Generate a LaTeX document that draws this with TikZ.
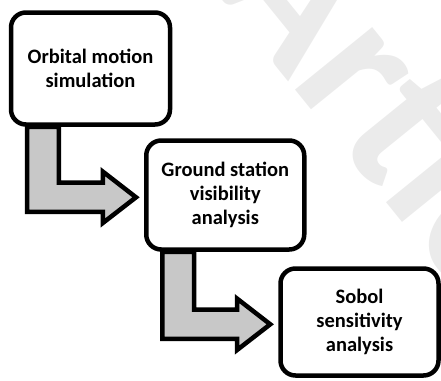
\documentclass[tikz,border=0pt]{standalone}
\usepackage{fontspec}
\setmainfont{Carlito}
\usetikzlibrary{calc}

\definecolor{arrowgray}{RGB}{200,200,200}
\definecolor{markgray}{RGB}{235,235,235}

\tikzset{
	stepbox/.style = {draw, line width=4.5pt, rounded corners=15pt, fill=white,
		align=center, inner sep=0pt, minimum width=158pt, minimum height=109pt,
		font=\bfseries\fontsize{20.5}{24}\selectfont},
	flowarrow/.style = {draw, line width=4.5pt, fill=arrowgray, line join=miter}
}

% bent block arrow from the bottom of #1 to the left side of #2
\newcommand{\flow}[2]{%
	\draw[flowarrow] let \p1 = (#1.south west), \p2 = (#2.west) in
		(\x1+18.25, \y1) -- (\x1+18.25, \y2-16.9) -- (\x2-41.25, \y2-16.9)
		-- (\x2-41.25, \y2-28.05) -- (\x2-8, \y2-2.3) -- (\x2-41.25, \y2+23.45)
		-- (\x2-41.25, \y2+12.3) -- (\x1+50, \y2+12.3) -- (\x1+50, \y1) -- cycle;}

\begin{document}
\begin{tikzpicture}[x=1pt, y=1pt]
	\useasboundingbox (0,0) rectangle (441,-380);

	% Watermark
	\begin{scope}
		\clip (0,0) rectangle (441,-380);
		\node[markgray, rotate=-51, anchor=base west, inner sep=0pt,
			font=\bfseries\fontsize{205}{205}\selectfont] (mark) at (210,15) {Artic};
	\end{scope}

	% Nodes
	\node[stepbox, minimum width=159pt, minimum height=112pt] (orbit) at (90.5,-68.5) {Orbital motion\\simulation};
	\node[stepbox] (ground) at (225.25,-195) {Ground station\\visibility\\analysis};
	\node[stepbox, minimum height=107pt] (sobol) at (359.5,-322) {Sobol\\sensitivity\\analysis};

	% Arrows
	\flow{orbit}{ground}
	\flow{ground}{sobol}
\end{tikzpicture}
\end{document}
